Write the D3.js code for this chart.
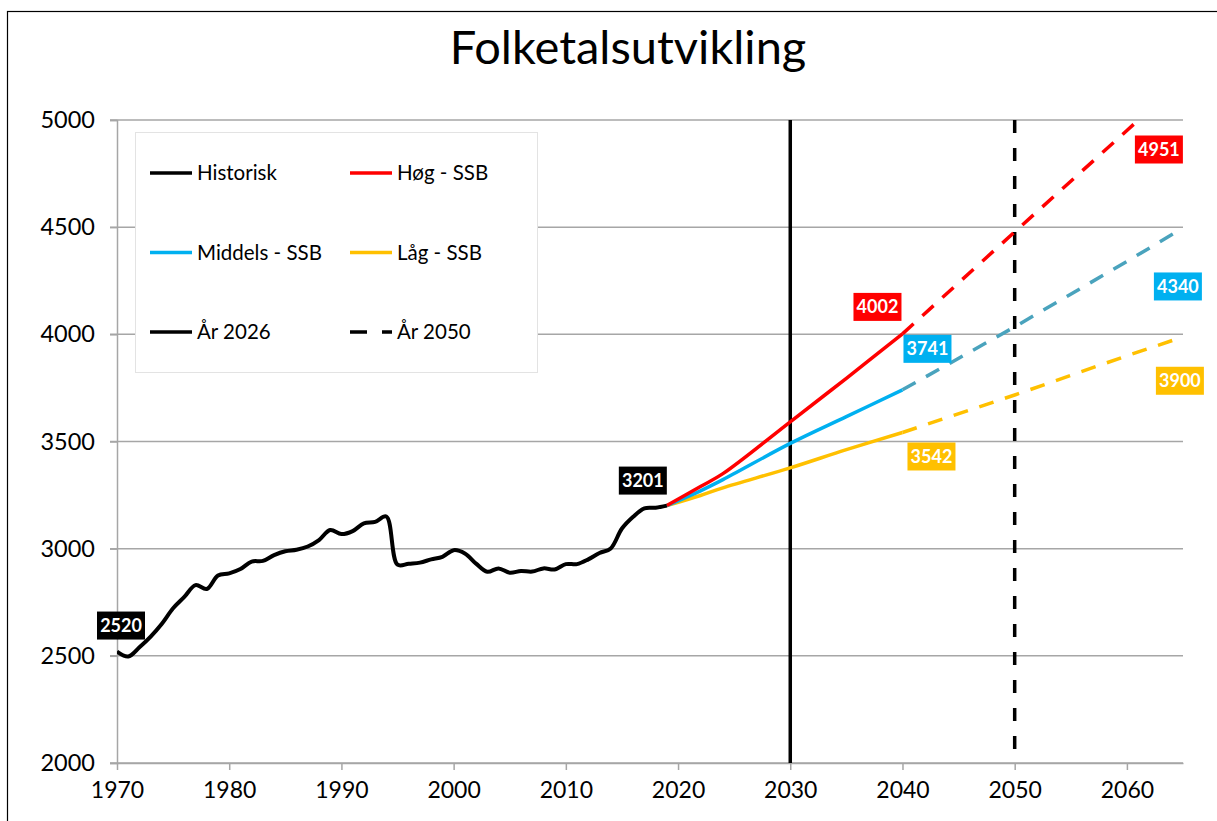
<!DOCTYPE html>
<html>
<head>
<meta charset="utf-8">
<script src="https://cdn.jsdelivr.net/npm/d3@7"></script>
<style>
	body { margin: 0; background: #fff; }
	svg { display: block; font-family: Lato, "Noto Sans", sans-serif; }
</style>
</head>
<body>
<div class="chart"></div>
<script>
// historical population, 1970-2019
const histYears = d3.range(1970, 2020);
const histValues = [
	2520, 2497, 2540, 2590, 2650, 2722, 2775, 2830, 2812, 2875,
	2885, 2905, 2940, 2943, 2970, 2988, 2995, 3010, 3040, 3087,
	3068, 3082, 3118, 3125, 3150, 2925, 2930, 2935, 2950, 2962,
	2993, 2978, 2930, 2892, 2908, 2888, 2896, 2893, 2908, 2903,
	2928, 2928, 2950, 2980, 3001, 3094, 3149, 3188, 3191, 3201
];

// SSB projections
const projYears = [2019, 2022, 2024, 2030, 2035, 2040, 2050, 2060, 2065];
const hogValues = [3201, 3290, 3350, 3592, 3795, 4002, 4478, 4951, 5190];
const middelsValues = [3201, 3270, 3322, 3491, 3616, 3741, 4035, 4340, 4496];
const lagValues = [3201, 3248, 3284, 3377, 3462, 3542, 3717, 3900, 3988];

const xTicks = [1970, 1980, 1990, 2000, 2010, 2020, 2030, 2040, 2050, 2060];
const yTicks = [2000, 2500, 3000, 3500, 4000, 4500, 5000];

const markerYears = [2030, 2050]; // "År 2026" solid, "År 2050" dashed
const solidEnd = 2040;

!function () {
	const width = 1217, height = 821;
	const margin = { top: 120, right: 34, bottom: 58, left: 117 };

	const x = d3.scaleLinear()
		.domain([1970, 2065])
		.range([margin.left, width - margin.right]);

	const y = d3.scaleLinear()
		.domain([2000, 5000])
		.range([height - margin.bottom, margin.top]);

	const svg = d3.select('.chart')
		.append("svg")
		.attr("width", width)
		.attr("height", height)
		.attr("viewBox", [0, 0, width, height]);

	// outer frame
	svg.append("rect")
		.attr("x", 7.5).attr("y", 11.5)
		.attr("width", width + 20).attr("height", height + 20)
		.attr("fill", "white")
		.attr("stroke", "#000").attr("stroke-width", 1.2);

	svg.append("text")
		.attr("x", 628).attr("y", 64)
		.attr("text-anchor", "middle")
		.style("font-size", "47px")
		.text("Folketalsutvikling");

	svg.append("defs").append("clipPath").attr("id", "plot")
		.append("rect")
		.attr("x", margin.left).attr("y", margin.top - 1)
		.attr("width", x.range()[1] - margin.left)
		.attr("height", y.range()[0] - margin.top + 1);

	// gridlines
	svg.append("g")
		.attr("stroke", "#a6a6a6").attr("stroke-width", 1.5)
		.selectAll("line")
		.data(yTicks)
		.join("line")
		.attr("x1", margin.left - 7).attr("x2", x.range()[1])
		.attr("y1", d => y(d)).attr("y2", d => y(d));

	// y axis
	svg.append("g")
		.attr("transform", `translate(${margin.left},0)`)
		.call(d3.axisLeft(y).tickValues(yTicks).tickSize(7).tickPadding(15).tickFormat(d3.format("d")))
		.call(g => g.selectAll("line, path").attr("stroke", "#a6a6a6").attr("stroke-width", 1.5))
		.call(g => g.selectAll("text").attr("fill", "#000").style("font", "23.5px Lato"));

	// x axis
	svg.append("g")
		.attr("transform", `translate(0,${y.range()[0]})`)
		.call(d3.axisBottom(x).tickValues(xTicks).tickSize(7).tickSizeOuter(0).tickPadding(12).tickFormat(d3.format("d")))
		.call(g => g.selectAll("line, path").attr("stroke", "#a6a6a6").attr("stroke-width", 1.5))
		.call(g => g.selectAll("text").attr("fill", "#000").style("font", "23px Lato"));

	// legend box
	const legend = svg.append("g");
	legend.append("rect")
		.attr("x", 135.5).attr("y", 132.5).attr("width", 402).attr("height", 240)
		.attr("fill", "white").attr("stroke", "#e3e3e3");

	const legendItems = [
		{ name: "Historisk", color: "#000", dash: null },
		{ name: "Høg - SSB", color: "#ff0000", dash: null },
		{ name: "Middels - SSB", color: "#00b0f0", dash: null },
		{ name: "Låg - SSB", color: "#ffc000", dash: null },
		{ name: "År 2026", color: "#000", dash: null },
		{ name: "År 2050", color: "#000", dash: "17,15" }
	];

	const li = legend.selectAll("g.item")
		.data(legendItems)
		.join("g")
		.attr("transform", (d, i) => `translate(${150 + (i % 2) * 200},${173 + Math.floor(i / 2) * 79.5})`);
	li.append("line")
		.attr("x1", 0).attr("x2", 42)
		.attr("stroke", d => d.color).attr("stroke-width", 3.5)
		.attr("stroke-dasharray", d => d.dash);
	li.append("text")
		.attr("x", 47).attr("dy", "0.35em")
		.style("font-size", "20.5px")
		.text(d => d.name);

	const plot = svg.append("g").attr("clip-path", "url(#plot)");

	// vertical marker lines
	plot.selectAll("line.marker")
		.data(markerYears)
		.join("line")
		.attr("x1", d => x(d)).attr("x2", d => x(d))
		.attr("y1", y(5000)).attr("y2", y(2000))
		.attr("stroke", "#000").attr("stroke-width", 3.5)
		.attr("stroke-dasharray", (d, i) => i ? "13,15" : null);

	const line = d3.line()
		.x(d => x(d[0]))
		.y(d => y(d[1]));

	const series = [
		{ values: lagValues, color: "#ffc000", dashColor: "#ffc000" },
		{ values: middelsValues, color: "#00b0f0", dashColor: "#4aa3bd" },
		{ values: hogValues, color: "#ff0000", dashColor: "#ff0000" }
	];

	series.forEach(s => {
		const pts = projYears.map((yr, i) => [yr, s.values[i]]);
		plot.append("path")
			.datum(pts.filter(d => d[0] <= solidEnd))
			.attr("fill", "none").attr("stroke", s.color).attr("stroke-width", 3.5)
			.attr("stroke-linejoin", "round")
			.attr("d", line.curve(d3.curveCatmullRom));
		plot.append("path")
			.datum(pts.filter(d => d[0] >= solidEnd))
			.attr("fill", "none").attr("stroke", s.dashColor).attr("stroke-width", 3.5)
			.attr("stroke-dasharray", "15,12")
			.attr("d", line.curve(d3.curveLinear));
	});

	plot.append("path")
		.datum(histYears.map((yr, i) => [yr, histValues[i]]))
		.attr("fill", "none").attr("stroke", "#000").attr("stroke-width", 4)
		.attr("stroke-linejoin", "round")
		.attr("d", line.curve(d3.curveCatmullRom));

	// value labels
	const hIdx = yr => histYears.indexOf(yr);
	const pIdx = yr => projYears.indexOf(yr);
	const labels = [
		{ year: 1970, value: histValues[hIdx(1970)], fill: "#000", dx: 4, dy: -26 },
		{ year: 2019, value: histValues[hIdx(2019)], fill: "#000", dx: -24, dy: -25 },
		{ year: 2040, value: hogValues[pIdx(2040)], fill: "#ff0000", dx: -25, dy: -27 },
		{ year: 2040, value: middelsValues[pIdx(2040)], fill: "#00b0f0", dx: 25, dy: -41 },
		{ year: 2040, value: lagValues[pIdx(2040)], fill: "#ffc000", dx: 29, dy: 24 },
		{ year: 2060, value: hogValues[pIdx(2060)], fill: "#ff0000", dx: 32, dy: 19 },
		{ year: 2060, value: middelsValues[pIdx(2060)], fill: "#00b0f0", dx: 51, dy: 25 },
		{ year: 2060, value: lagValues[pIdx(2060)], fill: "#ffc000", dx: 53, dy: 25 }
	];

	const lg = svg.append("g")
		.selectAll("g")
		.data(labels)
		.join("g")
		.attr("transform", d => `translate(${x(d.year) + d.dx},${y(d.value) + d.dy})`);
	lg.append("rect")
		.attr("x", -24).attr("y", -14).attr("width", 48).attr("height", 28)
		.attr("fill", d => d.fill);
	lg.append("text")
		.attr("text-anchor", "middle").attr("dy", "0.36em")
		.attr("fill", "white")
		.style("font-size", "18px").style("font-weight", "bold")
		.text(d => d.value);
}();
</script>
</body>
</html>
